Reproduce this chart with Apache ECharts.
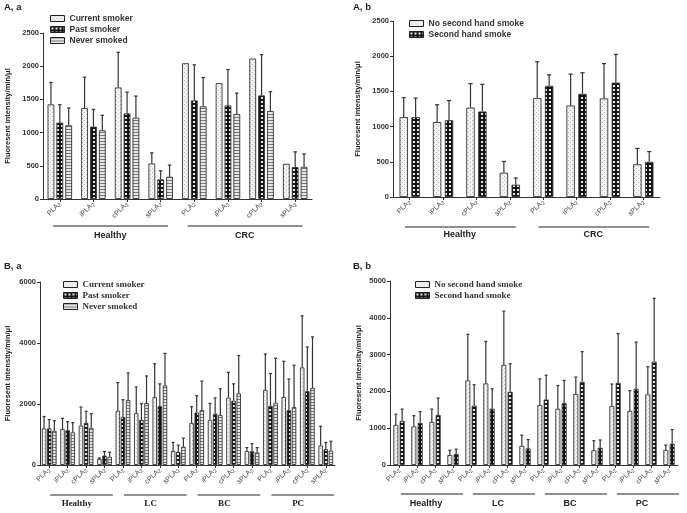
<!DOCTYPE html>
<html><head><meta charset="utf-8">
<script src="https://cdn.jsdelivr.net/npm/echarts@6/dist/echarts.min.js"></script>
<style>html,body{margin:0;padding:0;background:#fff}#c{width:687px;height:513px}</style>
</head><body><div id="c"></div>
<script>
// ---------- DATA ----------
const enzymes = ['PLA₂', 'iPLA₂', 'cPLA₂', 'sPLA₂'];
const groupsA = ['Healthy', 'CRC'];
const groupsB = ['Healthy', 'LC', 'BC', 'PC'];
const smokerNames = ['Current smoker', 'Past smoker', 'Never smoked'];
const shsNames = ['No second hand smoke', 'Second hand smoke'];

// Panel A,a (mean, top of error bar)
const aaCurrent    = [1425, 1370, 1680, 535, 2045, 1745, 2115, 530];
const aaCurrentErr = [1755, 1835, 2210, 695, null, null, null, null];
const aaPast       = [1150, 1090, 1290, 295, 1485, 1410, 1560, 480];
const aaPastErr    = [1420, 1350, 1610, 425, 2020, 1950, 2175, 710];
const aaNever      = [1110, 1035, 1225, 335, 1395, 1280, 1325, 485];
const aaNeverErr   = [1370, 1260, 1550, 510, 1830, 1595, 1615, 680];

// Panel A,b
const abNo     = [1135, 1065, 1270, 345, 1405, 1300, 1400, 465];
const abNoErr  = [1410, 1310, 1610, 505, 1920, 1745, 1895, 690];
const abYes    = [1135, 1090, 1215, 175, 1580, 1465, 1625, 500];
const abYesErr = [1405, 1370, 1600, 270, 1735, 1765, 2025, 645];

// Panel B,a
const baCurrent    = [1200, 1180, 1290, 200, 1780, 1700, 2230, 460, 1380, 1480, 2210, 460, 2460, 2230, 3200, 640];
const baCurrentErr = [1590, 1530, 1900, 230, 2700, 2560, 3320, 740, 1910, 2020, 3040, 570, 3640, 3400, 4890, 1270];
const baPast       = [1200, 1140, 1380, 310, 1580, 1480, 1930, 430, 1720, 1680, 2110, 450, 1940, 1800, 2420, 520];
const baPastErr    = [1490, 1420, 1760, 440, 2140, 2010, 2660, 650, 2270, 2200, 2660, 700, 3000, 2820, 3870, 740];
const baNever      = [1120, 1070, 1220, 270, 2130, 2030, 2610, 600, 1800, 1640, 2350, 410, 2040, 1900, 2530, 470];
const baNeverErr   = [1450, 1390, 1680, 420, 3020, 2920, 3660, 880, 2750, 2500, 3590, 570, 3500, 3270, 4200, 780];

// Panel B,b
const bbNo     = [1090, 1050, 1170, 270, 2300, 2220, 2720, 520, 1630, 1530, 1930, 400, 1600, 1470, 1920, 410];
const bbNoErr  = [1380, 1340, 1520, 400, 3550, 3360, 4180, 810, 2340, 2160, 2390, 660, 2200, 2020, 2670, 540];
const bbYes    = [1200, 1140, 1360, 300, 1610, 1530, 1990, 450, 1780, 1680, 2260, 470, 2230, 2070, 2810, 580];
const bbYesErr = [1520, 1450, 1820, 430, 2180, 2070, 2750, 690, 2440, 2300, 3080, 680, 3570, 3340, 4530, 960];

const yTicksA = [0, 500, 1000, 1500, 2000, 2500];
const yTicksBa = [0, 2000, 4000, 6000];
const yTicksBb = [0, 1000, 2000, 3000, 4000, 5000];
const yName = 'Fluoresent intensity/min/μl';

// ---------- STYLE HELPERS ----------
function pat(w, h, draw) {
  const c = document.createElement('canvas'); c.width = w; c.height = h;
  draw(c.getContext('2d'));
  return { image: c, repeat: 'repeat' };
}
const patDots = pat(4, 4, ctx => { ctx.fillStyle = '#f4f4f4'; ctx.fillRect(0,0,4,4); ctx.fillStyle = '#b8b8b8'; ctx.fillRect(0,0,1,1); ctx.fillRect(2,2,1,1); });
const patCheck = pat(4, 4, ctx => { ctx.fillStyle = '#151515'; ctx.fillRect(0,0,4,4); ctx.fillStyle = '#e8e8e8'; ctx.fillRect(1,1,2,2); });
const patStripe = pat(3, 3, ctx => { ctx.fillStyle = '#e6e6e6'; ctx.fillRect(0,0,3,3); ctx.fillStyle = '#7a7a7a'; ctx.fillRect(0,0,3,1); });

const SANS = 'Liberation Sans, Arial, sans-serif';
const SERIF = 'Liberation Serif, Times New Roman, serif';
const cat = g => g.flatMap(() => enzymes);

const panels = [
  { title: 'A, a', tl: 4, tt: 2, grid: { left: 43, top: 33, width: 269, height: 166 }, ticks: yTicksA, cats: cat(groupsA), groups: groupsA,
    ser: [[smokerNames[0], aaCurrent, aaCurrentErr, patDots], [smokerNames[1], aaPast, aaPastErr, patCheck], [smokerNames[2], aaNever, aaNeverErr, patStripe]],
    cg: 0.27, bg: 0.3, lg: { left: 50, top: 14 }, lgFont: SANS, lgSize: 8.5, grFont: SANS, lineOff: 27, ls: -0.2, le: 0.22, gm: 32, nameGap: 31 },
  { title: 'A, b', tl: 353, tt: 2, grid: { left: 393, top: 21, width: 267, height: 176 }, ticks: yTicksA, cats: cat(groupsA), groups: groupsA,
    ser: [[shsNames[0], abNo, abNoErr, patDots], [shsNames[1], abYes, abYesErr, patCheck]],
    cg: 0.39, bg: 0.4, lg: { left: 409, top: 19 }, lgFont: SANS, lgSize: 8.5, grFont: SANS, lineOff: 30, ls: -0.14, le: 0.18, gm: 33, nameGap: 31 },
  { title: 'B, a', tl: 4, tt: 261, grid: { left: 40, top: 282, width: 295, height: 183 }, ticks: yTicksBa, cats: cat(groupsB), groups: groupsB,
    ser: [[smokerNames[0], baCurrent, baCurrentErr, patDots], [smokerNames[1], baPast, baPastErr, patCheck], [smokerNames[2], baNever, baNeverErr, patStripe]],
    cg: 0.2, bg: 0.15, lg: { left: 63, top: 280 }, lgFont: SERIF, lgSize: 9, grFont: SERIF, lineOff: 30, ls: 0.05, le: 0.45, gm: 34, nameGap: 28 },
  { title: 'B, b', tl: 353, tt: 261, grid: { left: 390, top: 281, width: 288, height: 184 }, ticks: yTicksBb, cats: cat(groupsB), groups: groupsB,
    ser: [[shsNames[0], bbNo, bbNoErr, patDots], [shsNames[1], bbYes, bbYesErr, patCheck]],
    cg: 0.37, bg: 0.26, lg: { left: 415, top: 280 }, lgFont: SERIF, lgSize: 9, grFont: SANS, lineOff: 29, ls: 0.1, le: 0.56, gm: 34, nameGap: 27 }
];

function errRender(n, k, cg, bg) {
  return function (params, api) {
    const x = api.value(0), v = api.value(1), cap = api.value(2);
    const band = api.size([1, 0])[0];
    const w = band * (1 - cg) / (n + (n - 1) * bg);
    const off = -band * (1 - cg) / 2 + k * w * (1 + bg) + w / 2;
    const b = api.coord([x, v]), t = api.coord([x, cap]);
    const px = b[0] + off, cw = Math.max(3, w * 0.5);
    return { type: 'group', children: [
      { type: 'line', shape: { x1: px, y1: b[1], x2: px, y2: t[1] }, style: { stroke: '#333', lineWidth: 1.2 } },
      { type: 'line', shape: { x1: px - cw / 2, y1: t[1], x2: px + cw / 2, y2: t[1] }, style: { stroke: '#333', lineWidth: 1.2 } }
    ] };
  };
}

const option = { animation: false, backgroundColor: '#fff', title: [], grid: [], xAxis: [], yAxis: [], legend: [], series: [] };
panels.forEach((p, i) => {
  option.title.push({ text: p.title, left: p.tl, top: p.tt, padding: 0, textStyle: { fontSize: 9.5, fontWeight: 'bold', fontFamily: SANS, color: '#222' } });
  option.grid.push(Object.assign({ containLabel: false }, p.grid));
  const ymax = p.ticks[p.ticks.length - 1];
  option.yAxis.push({ type: 'value', gridIndex: i, min: 0, max: ymax, interval: p.ticks[1] - p.ticks[0],
    name: yName, nameLocation: 'middle', nameRotate: 90, nameGap: p.nameGap,
    nameTextStyle: { fontSize: 7.5, fontWeight: 'bold', fontFamily: SANS, color: '#222' },
    axisLine: { show: true, lineStyle: { color: '#333', width: 1 } }, axisTick: { show: true, length: 3, lineStyle: { color: '#333' } },
    splitLine: { show: false }, axisLabel: { fontSize: 7.5, fontWeight: 'bold', fontFamily: SANS, color: '#333', margin: 4, formatter: v => String(v) } });
  option.xAxis.push({ type: 'category', gridIndex: i, data: p.cats, position: 'bottom',
    axisLine: { lineStyle: { color: '#333', width: 1 } }, axisTick: { show: true, alignWithLabel: true, length: 3, lineStyle: { color: '#333' } },
    axisLabel: { rotate: 45, margin: 4, interval: 0,
      formatter: v => '{a|' + v.replace('₂', '') + '}{s|2}',
      rich: { a: { fontSize: 7, fontFamily: SANS, color: '#444' }, s: { fontSize: 5.5, fontFamily: SANS, color: '#444', padding: [3, 0, 0, 0] } } } });
  option.legend.push({ orient: 'vertical', left: p.lg.left, top: p.lg.top, padding: 0, itemWidth: 14, itemHeight: 6, itemGap: 2, icon: 'rect',
    data: p.ser.map(s => s[0]), textStyle: { fontSize: p.lgSize, fontWeight: 'bold', fontFamily: p.lgFont, color: '#333' },
    itemStyle: { borderColor: '#222', borderWidth: 1 } });
  p.ser.forEach((s, k) => {
    option.series.push({ type: 'bar', name: s[0], xAxisIndex: i, yAxisIndex: i, data: s[1],
      barCategoryGap: (p.cg * 100) + '%', barGap: (p.bg * 100) + '%',
      itemStyle: { color: s[3], borderColor: '#333', borderWidth: 0.9 } });
    const ed = [];
    s[2].forEach((c, j) => { if (c != null) ed.push([j, s[1][j], c]); });
    option.series.push({ type: 'custom', name: s[0] + ' err', xAxisIndex: i, yAxisIndex: i, data: ed,
      encode: { x: 0, y: [1, 2] }, renderItem: errRender(p.ser.length, k, p.cg, p.bg), z: 3, silent: true });
  });
});
// group label axes
panels.forEach((p, i) => {
  option.xAxis.push({ type: 'category', gridIndex: i, data: p.groups, position: 'bottom',
    axisLine: { show: false }, axisTick: { show: false }, splitLine: { show: false },
    axisLabel: { margin: p.gm, fontSize: 9, fontWeight: 'bold', fontFamily: p.grFont, color: '#222', interval: 0 } });
});

const chart = echarts.init(document.getElementById('c'), null, { renderer: 'canvas' });
chart.setOption(option);

// group underlines
const gfx = [];
panels.forEach((p, i) => {
  const c0 = chart.convertToPixel({ xAxisIndex: i }, 0), c1 = chart.convertToPixel({ xAxisIndex: i }, 1);
  const band = c1 - c0;
  const y = chart.convertToPixel({ yAxisIndex: i }, 0) + p.lineOff;
  p.groups.forEach((g, gi) => {
    const x0 = chart.convertToPixel({ xAxisIndex: i }, gi * 4) + p.ls * band;
    const x1 = chart.convertToPixel({ xAxisIndex: i }, gi * 4 + 3) + p.le * band;
    gfx.push({ type: 'line', shape: { x1: x0, y1: y, x2: x1, y2: y }, style: { stroke: '#222', lineWidth: 1 } });
  });
});
chart.setOption({ graphic: gfx });
</script></body></html>
